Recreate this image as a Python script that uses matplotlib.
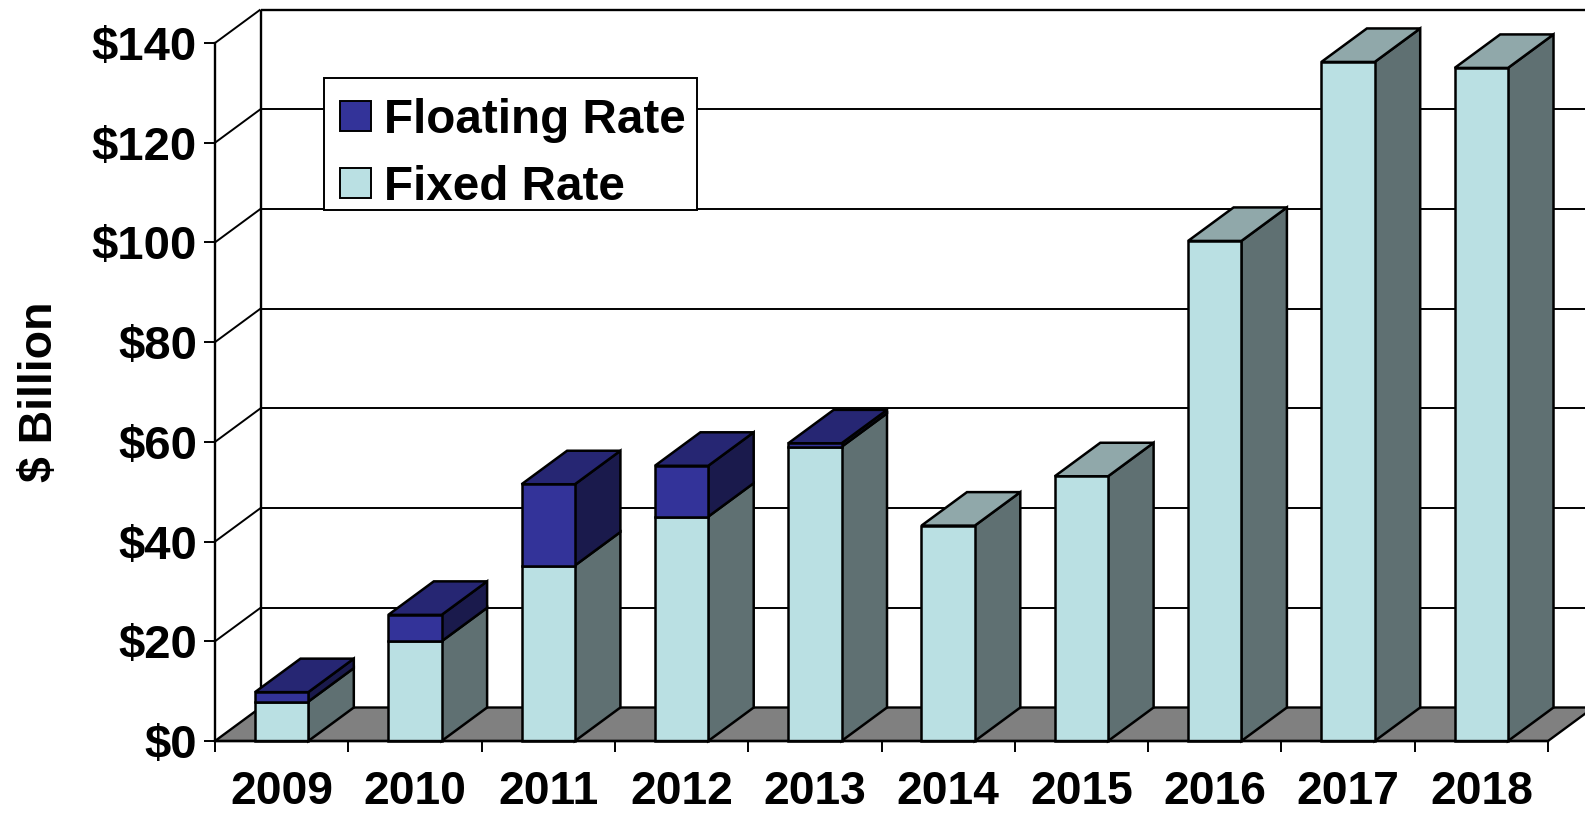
import matplotlib
matplotlib.use("Agg")
import matplotlib.pyplot as plt
from matplotlib.patches import Polygon, Patch, Rectangle
from matplotlib.ticker import FixedLocator, NullFormatter

years = ["2009", "2010", "2011", "2012", "2013", "2014", "2015", "2016", "2017", "2018"]
fixed_rate = [7.9, 20.0, 35.2, 45.0, 59.0, 43.2, 53.1, 100.3, 136.2, 135.0]
floating_rate = [1.9, 5.3, 16.3, 10.2, 0.7, 0, 0, 0, 0, 0]
y_ticks = [0, 20, 40, 60, 80, 100, 120, 140]
y_labels = ["$0", "$20", "$40", "$60", "$80", "$100", "$120", "$140"]

W, H = 1585, 814
plt.rcParams["font.family"] = ["Liberation Sans", "DejaVu Sans"]
plt.rcParams["font.weight"] = "bold"

fig = plt.figure(figsize=(W / 100, H / 100), dpi=100, facecolor="white")
ax = fig.add_axes([215 / W, 1 - 741 / H, 1333 / W, 698 / H])
ax.set_xlim(0, 10)
ax.set_ylim(0, 140)
ax.patch.set_visible(False)

DX = 45.5 / 133.3   # oblique depth in category units
DY = 33.5 / 4.986   # oblique depth in dollars
BAR = 0.4
LW_AX = 1.7
LW_GRID = 1.4
LW_BAR = 1.8

FIX = dict(front="#BAE0E3", side="#5F7072", top="#90A8AA")
FLO = dict(front="#333399", side="#1A1A4C", top="#262673")


def poly(pts, color, z):
    ax.add_patch(Polygon(pts, closed=True, facecolor=color, edgecolor="black",
                         linewidth=LW_BAR, joinstyle="miter", clip_on=False, zorder=z))


def line(xs, ys, lw, z):
    ax.plot(xs, ys, color="black", lw=lw, clip_on=False, zorder=z, solid_capstyle="butt")


def px_x(p):
    return (p - 215) / 1333


def px_y(p):
    return (741 - p) / 698


# floor
ax.add_patch(Polygon([(0, 0), (10, 0), (10 + DX, DY), (DX, DY)], closed=True,
                     facecolor="#808080", edgecolor="black", linewidth=LW_AX,
                     clip_on=False, zorder=1))
# back wall and gridlines
line([DX, DX], [DY, 140 + DY], LW_AX, 2)
for t in y_ticks[1:]:
    line([DX, 10 + DX], [t + DY, t + DY], LW_GRID if t < 140 else LW_AX, 2)
    line([0, DX], [t, t + DY], LW_GRID, 2)


def segment(x0, x1, lo, hi, c, top, z):
    poly([(x0, lo), (x1, lo), (x1, hi), (x0, hi)], c["front"], z + 1)
    poly([(x1, lo), (x1 + DX, lo + DY), (x1 + DX, hi + DY), (x1, hi)], c["side"], z)
    if top:
        poly([(x0, hi), (x1, hi), (x1 + DX, hi + DY), (x0 + DX, hi + DY)], c["top"], z)


for i, (a, b) in enumerate(zip(fixed_rate, floating_rate)):
    c = i + 0.5
    x0, x1 = c - BAR / 2, c + BAR / 2
    z = 4 + i
    segment(x0, x1, 0, a, FIX, b == 0, z)
    if b:
        segment(x0, x1, a, a + b, FLO, True, z + 0.2)

# axes
for s in ("top", "right"):
    ax.spines[s].set_visible(False)
for s in ("left", "bottom"):
    ax.spines[s].set_linewidth(LW_AX)
    ax.spines[s].set_zorder(30)

ax.set_yticks(y_ticks, y_labels, fontsize=34, fontweight="bold")
ax.tick_params(axis="y", length=8, width=1.4, pad=5)
ax.xaxis.set_major_locator(FixedLocator(list(range(11))))
ax.xaxis.set_major_formatter(NullFormatter())
ax.xaxis.set_minor_locator(FixedLocator([i + 0.5 for i in range(10)]))
ax.set_xticklabels(years, minor=True, fontsize=33.3, fontweight="bold")
ax.tick_params(axis="x", which="major", length=8, width=1.4)
ax.tick_params(axis="x", which="minor", length=0, pad=21)

ax.set_ylabel("$ Billion", fontsize=33.5, fontweight="bold")
ax.yaxis.set_label_coords(px_x(62), px_y(392))

# legend frame
frame = Rectangle((px_x(324.3), px_y(210)), 373 / 1333, 131.7 / 698,
                  transform=ax.transAxes, facecolor="white", edgecolor="black",
                  linewidth=1.4, clip_on=False, zorder=39)
ax.add_patch(frame)

handles = [Patch(facecolor=FLO["front"], edgecolor="black", linewidth=1.4, label="Floating Rate"),
           Patch(facecolor=FIX["front"], edgecolor="black", linewidth=1.4, label="Fixed Rate")]
leg = ax.legend(handles=handles, loc="upper left", prop=dict(size=34.3, weight="bold"),
                bbox_to_anchor=(px_x(340), px_y(97.7)),
                borderaxespad=0, frameon=False,
                handlelength=0.65, handleheight=0.58, handletextpad=0.28,
                labelspacing=0.46, borderpad=0)
leg.set_zorder(40)

fig.savefig("out.png", dpi=100)
